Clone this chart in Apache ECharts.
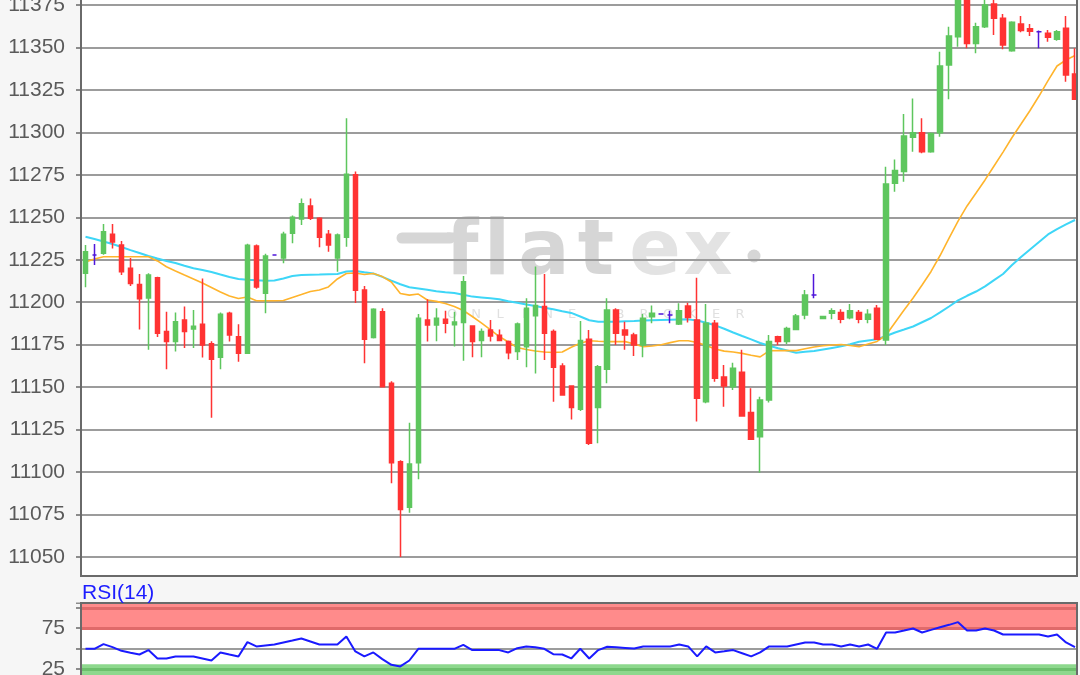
<!DOCTYPE html>
<html><head><meta charset="utf-8">
<script src="https://cdn.jsdelivr.net/npm/echarts@6/dist/echarts.min.js"></script>
<style>html,body{margin:0;padding:0;background:#f6f6f6;overflow:hidden;width:1080px;height:675px}
#c{position:absolute;left:0;top:-50px;width:1080px;height:800px}</style>
</head><body><div id="c"></div>
<script>
// ---- data ----
const opens = [11217,11227.8,11228.8,11240,11233.7,11220,11210.5,11202.5,11214.4,11182.7,
11176.8,11189.5,11184.3,11187,11175.6,11167.6,11193.5,11179.7,11170,11233.1,
11205.3,11227.8,11226,11240.6,11249,11256.6,11249.4,11240,11226,11238.2,
11275,11207.2,11179.3,11194.4,11152.3,11106,11079.3,11105.5,11189.5,11186.6,
11190,11186.8,11188,11186,11177.4,11183.6,11180.5,11176.8,11171,11173.8,
11192,11197.5,11182.7,11162.4,11150.7,11137,11178.2,11138,11160.5,11195.4,
11183.6,11180.7,11174.8,11191.5,11193,11192.5,11187.2,11197.8,11189.5,11141.4,
11187.6,11156,11150.3,11158.7,11135,11120.8,11142.4,11179.7,11176.8,11184,
11192.5,11204.3,11190.4,11193.5,11194,11190.9,11194,11190,11196.4,11177.8,
11270,11276.9,11297.1,11299.8,11288.6,11299.8,11339.7,11356.3,11382,11352.4,
11362.2,11375.6,11367.2,11348.1,11363.8,11361,11359.3,11358.3,11354.8,11361.3,
11334.4];
const closes = [11229.7,11227.8,11241.5,11235.5,11218,11211,11202,11216,11181.7,11176.8,
11188.5,11182.7,11185.8,11174.8,11166.4,11192.9,11180.7,11170,11233.5,11209,
11227.2,11227.8,11240,11250,11258,11249.4,11238.2,11233.7,11239.6,11275.3,
11207,11178.2,11195.8,11150.3,11105.5,11078,11104.8,11190.5,11186.6,11190.5,
11187.6,11188.3,11212,11176.8,11182.7,11180.1,11177.5,11170.3,11187.2,11196.4,
11198,11181.7,11161.7,11145.4,11138,11177.4,11117,11162,11195.4,11181.7,
11180.7,11174.8,11190.5,11193.5,11193,11192.5,11195,11191,11143.4,11187.6,
11155.2,11150.7,11161.1,11133,11119.3,11142.4,11176.8,11176.8,11184.6,11191.9,
11204.3,11204.3,11191.6,11195,11190,11195,11190,11192.9,11178.2,11269.6,
11277.5,11297.9,11299.8,11288.6,11299.4,11339.1,11356.7,11385,11352.4,11362.2,
11375,11367.2,11351.4,11364.8,11360,11359.6,11359.3,11356,11359.3,11333.8,
11319.5];
const lows = [11208.8,11221.9,11228,11231.7,11216,11209.5,11184,11172,11179.5,11160.5,
11171,11173,11173,11167.5,11132,11160.5,11176.8,11165,11169.5,11208,
11193.5,11227.3,11223,11234.7,11245.5,11248.4,11232.3,11229.7,11218,11232.7,
11199.5,11164,11178.7,11150,11093.4,11050,11076,11095.7,11176.8,11177,
11181.7,11174,11165.6,11167.6,11167.6,11176.8,11177,11166.4,11166,11161.7,
11158,11166,11141.4,11145,11131,11136,11116,11117,11152.3,11174.8,
11172,11168.3,11167.6,11187.6,11193,11187.6,11186.6,11188,11129.7,11140.5,
11153.2,11138.5,11148.3,11132.6,11119,11099.6,11141,11174.8,11175.4,11183.5,
11190,11202.3,11190,11190,11187.6,11190,11187.6,11187.6,11177.8,11174.8,
11265,11271,11288.6,11287.7,11288,11297.5,11319.5,11350.4,11349.5,11346.6,
11361.5,11357.3,11349,11347.5,11359,11356.7,11349.5,11353.4,11354,11329.8,
11319];
const highs = [11233.7,11234.3,11246,11246,11236,11226,11216.6,11217,11215,11194.4,
11194,11197.5,11195.4,11214,11177,11194,11194.4,11187,11234.5,11234,
11228.5,11228.3,11241.5,11251,11261,11261,11250,11242.5,11240.5,11308.3,
11277,11209.6,11196.5,11196.4,11153.5,11107,11129,11193,11201.7,11196.4,
11195,11194.4,11215.4,11186.5,11184.6,11189.5,11184,11177.5,11188,11202.3,
11221,11216.6,11184,11164,11151,11189,11183.6,11163,11202.3,11196.4,
11188.5,11182,11193,11198,11193,11195,11199.4,11199.7,11214.4,11199,
11189.5,11163,11164.4,11172,11149.3,11144.4,11180.7,11180.3,11185.6,11193,
11207.2,11216.6,11192,11196.4,11195.8,11199,11195.4,11195.8,11198.4,11279.8,
11284,11310.8,11320,11308.3,11300,11347.5,11362.2,11392,11388,11364.6,
11380,11379,11369.7,11365.5,11368.5,11363.8,11360,11360.3,11360.3,11368.5,
11349.5];
const maShort = [11223.7,11225.4,11226.8,11226.8,11226.8,11226.8,11226.8,11226.8,11224.3,11220.9,
11218.4,11216.0,11213.7,11211.3,11208.7,11206.0,11203.7,11202.2,11203.1,11200.9,
11200.9,11200.9,11201.0,11202.8,11204.5,11206.3,11207.2,11209.0,11213.7,11216.9,
11217.2,11216.3,11216.9,11215.1,11211.9,11205.1,11204.2,11204.8,11201.3,11200.5,
11199.2,11197.5,11195.1,11191.6,11187.8,11183.8,11179.8,11176.6,11173.3,11172.2,
11171.3,11170.7,11170.4,11170.7,11173.5,11175.8,11177.3,11177.0,11176.8,11176.8,
11176.8,11175.4,11173.8,11174.2,11175.0,11176.2,11177.3,11177.3,11176.3,11174.5,
11172.5,11171.2,11170.7,11169.9,11168.8,11167.8,11171.4,11171.5,11171.5,11171.5,
11172.6,11173.6,11174.4,11174.8,11175.1,11174.5,11173.8,11175.4,11176.9,11180.7,
11188.1,11195.4,11202.5,11210.1,11218.1,11227.5,11237.8,11247.8,11256.7,11264.3,
11272.0,11280.2,11288.4,11297.0,11304.9,11312.9,11321.4,11330.5,11339.1,11342.6,
11345.3];
const maLong = [11238.6,11237.2,11235.8,11234.3,11232.5,11230.7,11229.0,11227.2,11225.7,11224.3,
11223.1,11221.5,11220.0,11219.0,11217.8,11216.3,11214.9,11213.7,11213.3,11213.0,
11212.7,11212.8,11214.0,11215.4,11216.0,11216.2,11216.3,11216.5,11216.6,11218.1,
11218.4,11217.6,11216.9,11214.9,11212.7,11210.6,11208.8,11208.1,11207.3,11206.5,
11205.9,11205.4,11204.4,11203.3,11202.8,11202.3,11201.7,11200.6,11199.7,11198.7,
11197.8,11196.8,11195.8,11194.7,11193.7,11191.6,11189.4,11188.5,11188.5,11188.5,
11188.8,11188.9,11189.2,11189.4,11189.6,11189.7,11189.8,11189.9,11189.2,11187.9,
11186.4,11184.4,11182.2,11180.1,11178.1,11176.0,11174.4,11172.9,11171.6,11170.3,
11170.8,11171.3,11172.2,11173.1,11174.0,11175.3,11176.7,11177.5,11178.2,11180.1,
11182.2,11183.9,11185.7,11188.2,11190.7,11194.0,11197.5,11201.1,11203.8,11206.3,
11209.3,11213.0,11216.6,11221.9,11226.6,11231.1,11235.5,11239.9,11243.0,11245.8,
11248.4];
const rsi = [49.6,49.6,55.3,51.6,47.1,44.8,42.6,48,37.7,37.7,
40.2,40.2,40.2,37.7,35.2,45.1,42.6,40.2,57.8,52.5,
53.7,54.9,57.4,59.8,62.3,58.6,54.9,54.9,54.9,64.8,
46.3,40.2,45.1,36.9,29.9,27.9,35.2,49.6,49.6,49.6,
49.6,49.6,54.5,48,48,48,48,45.1,50.4,52.5,
51.6,49.6,43,42.6,37.7,49.6,37.7,48,52.1,51.4,
50.7,50,52.5,52.5,52.5,52.5,54.9,52.5,40.2,52.5,
45.1,46.5,48,44.1,40.2,45.1,52.5,52.5,52.5,55,
57.4,57.4,54.9,54.9,52.5,54.9,52.5,54.9,49.6,69.7,
69.7,72.1,74.6,69.7,72.9,76.2,79.1,82.4,72.1,72.1,
74.6,72.1,67.2,67.2,67.2,67.2,67.2,64.8,67.2,57.4,
51.6];
const priceTickLabels = [11050,11075,11100,11125,11150,11175,11200,11225,11250,11275,11300,11325,11350,11375];
const rsiTickLabels = [25, 75];
const rsiLevels = {overbought: 75, top: 100, mid: 50, oversold: 25};
const categories = opens.map((_, i) => String(i));

// ---- styles / layout ----
const OFF = 50; // chart container is shifted up by this many px
const UP = '#5ec65e', DOWN = '#ff3333', DOJI = '#4f16da';
const BG = '#f6f6f6', AXIS = '#6a6a6a', GRIDC = '#9c9c9c', LABEL = '#5a5a5a';
const FONT = 'Liberation Sans';

const candleData = opens.map((o, i) => {
  const v = [o, closes[i], lows[i], highs[i]];
  if (o === closes[i]) {
    return {value: v, itemStyle: {color: DOJI, color0: DOJI, borderColor: DOJI, borderColor0: DOJI, borderColorDoji: DOJI}};
  }
  return v;
});

const chart = echarts.init(document.getElementById('c'), null, {renderer: 'canvas'});

const wmLetters = [
  {t: 'f', x: 462, c: '#d6d6d6'}, {t: 'l', x: 497, c: '#d6d6d6'},
  {t: 'a', x: 544, c: '#d6d6d6'}, {t: 't', x: 596, c: '#d6d6d6'},
  {t: 'e', x: 655, c: '#e3e3e3'}, {t: 'x', x: 708, c: '#e3e3e3'}
];
const subLetters = 'ONLINE BROKER'.split('');

const graphics = [
  {type: 'rect', shape: {x: 81, y: OFF - 40, width: 996, height: 616}, style: {fill: '#ffffff'}, z: -10, silent: true},
  {type: 'rect', shape: {x: 81, y: OFF + 603, width: 996, height: 90}, style: {fill: '#ffffff'}, z: -10, silent: true},
  {type: 'line', shape: {x1: 402, y1: OFF + 238, x2: 450, y2: OFF + 238}, style: {stroke: '#d6d6d6', lineWidth: 11, lineCap: 'round'}, z: -5, silent: true},
  {type: 'circle', shape: {cx: 754, cy: OFF + 256, r: 6.5}, style: {fill: '#d6d6d6'}, z: -5, silent: true}
];
wmLetters.forEach(l => graphics.push({
  type: 'text', x: l.x, y: OFF + 254, z: -5, silent: true,
  style: {text: l.t, fill: l.c, font: 'bold 76px "DejaVu Sans"', textAlign: 'center', textVerticalAlign: 'middle', verticalAlign: 'middle'}
}));
subLetters.forEach((ch, i) => graphics.push({
  type: 'text', x: 452 + i * 24, y: OFF + 315, z: -5, silent: true,
  style: {text: ch, fill: '#e0e0e0', font: '13px "DejaVu Sans"', textAlign: 'center', textVerticalAlign: 'middle', verticalAlign: 'middle'}
}));
graphics.push(
  {type: 'rect', shape: {x: 0, y: OFF + 577, width: 1080, height: 25.5}, style: {fill: BG}, z: 50, silent: true},
  {type: 'rect', shape: {x: 1078, y: 0, width: 3, height: 800}, style: {fill: BG}, z: 50, silent: true},
  {type: 'line', shape: {x1: 80, y1: OFF + 576, x2: 1078, y2: OFF + 576}, style: {stroke: AXIS, lineWidth: 2}, z: 51, silent: true},
  {type: 'line', shape: {x1: 1077, y1: 0, x2: 1077, y2: OFF + 577}, style: {stroke: AXIS, lineWidth: 2}, z: 51, silent: true},
  {type: 'line', shape: {x1: 80, y1: OFF + 603, x2: 1078, y2: OFF + 603}, style: {stroke: AXIS, lineWidth: 2}, z: 51, silent: true},
  {type: 'line', shape: {x1: 1077, y1: OFF + 603, x2: 1077, y2: 800}, style: {stroke: AXIS, lineWidth: 2}, z: 51, silent: true},
  {type: 'line', shape: {x1: 81, y1: OFF + 603, x2: 81, y2: 800}, style: {stroke: AXIS, lineWidth: 2}, z: 51, silent: true},
  {type: 'text', x: 82, y: OFF + 593, z: 52, silent: true,
   style: {text: 'RSI(14)', fill: '#1c1cff', font: '21px "Liberation Sans"', textAlign: 'left', textVerticalAlign: 'middle', verticalAlign: 'middle'}}
);

const option = {
  animation: false,
  backgroundColor: BG,
  grid: [
    {left: 81, top: OFF - 37.46, width: 998.5, height: 636.9},
    {left: 81, top: OFF + 603, width: 998.5, height: 86.07}
  ],
  xAxis: [
    {type: 'category', gridIndex: 0, data: categories, boundaryGap: true,
     axisLine: {show: false}, axisTick: {show: false}, axisLabel: {show: false}, splitLine: {show: false}},
    {type: 'category', gridIndex: 1, data: categories, boundaryGap: true,
     axisLine: {show: false}, axisTick: {show: false}, axisLabel: {show: false}, splitLine: {show: false}}
  ],
  yAxis: [
    {type: 'value', gridIndex: 0, min: 11025, max: 11400, interval: 25, position: 'left',
     axisLine: {show: true, lineStyle: {color: AXIS, width: 2}},
     axisTick: {show: true, length: 5, lineStyle: {color: AXIS, width: 1.5}},
     axisLabel: {margin: 16, color: LABEL, fontSize: 21, fontFamily: FONT,
       formatter: v => priceTickLabels.includes(v) ? String(v) : ''},
     splitLine: {show: true, lineStyle: {color: GRIDC, width: 1.8}}},
    {type: 'value', gridIndex: 1, min: 0, max: 106, interval: 25, position: 'left',
     axisLine: {show: true, lineStyle: {color: AXIS, width: 2}},
     axisTick: {show: true, length: 5, lineStyle: {color: AXIS, width: 1.5}},
     axisLabel: {margin: 16, color: LABEL, fontSize: 21, fontFamily: FONT,
       formatter: v => rsiTickLabels.includes(v) ? String(v) : ''},
     splitLine: {show: false}}
  ],
  series: [
    {name: 'MA long', type: 'line', xAxisIndex: 0, yAxisIndex: 0, data: maLong, symbol: 'none',
     lineStyle: {color: '#3ed6f7', width: 2}, z: 2, silent: true},
    {name: 'MA short', type: 'line', xAxisIndex: 0, yAxisIndex: 0, data: maShort, symbol: 'none',
     lineStyle: {color: '#ffb42c', width: 1.6}, z: 2, silent: true},
    {name: 'Kurs', type: 'candlestick', xAxisIndex: 0, yAxisIndex: 0, data: candleData, barWidth: 5,
     itemStyle: {color: UP, color0: DOWN, borderColor: UP, borderColor0: DOWN, borderColorDoji: DOJI, borderWidth: 1.5},
     z: 3, silent: true},
    {name: 'bands', type: 'line', xAxisIndex: 1, yAxisIndex: 1, data: rsi, symbol: 'none',
     lineStyle: {opacity: 0}, z: 1, silent: true,
     markArea: {silent: true, data: [
       [{yAxis: rsiLevels.overbought, itemStyle: {color: '#ff8b8b'}}, {yAxis: 106}],
       [{yAxis: 0, itemStyle: {color: '#8dd88d'}}, {yAxis: 30.5}]
     ]},
     markLine: {silent: true, symbol: ['none', 'none'], label: {show: false}, data: [
       {yAxis: rsiLevels.top, lineStyle: {color: '#e06a6a', width: 3, type: 'solid'}},
       {yAxis: rsiLevels.overbought, lineStyle: {color: '#e06a6a', width: 3, type: 'solid'}},
       {yAxis: rsiLevels.mid, lineStyle: {color: GRIDC, width: 1.8, type: 'solid'}},
       {yAxis: rsiLevels.oversold, lineStyle: {color: '#6cc06c', width: 3, type: 'solid'}}
     ]}},
    {name: 'RSI(14)', type: 'line', xAxisIndex: 1, yAxisIndex: 1, data: rsi, symbol: 'none',
     lineStyle: {color: '#1a1aff', width: 2}, z: 5, silent: true}
  ],
  graphic: graphics
};
chart.setOption(option);
</script>
</body></html>
